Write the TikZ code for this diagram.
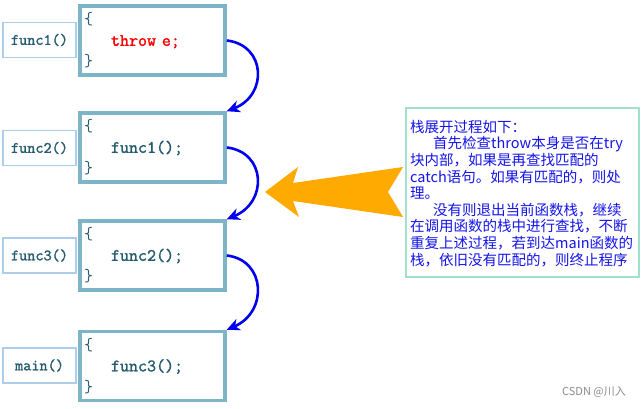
\documentclass[tikz,border=0pt]{standalone}
\usepackage{fontspec}
\usepackage{xcolor}
\usepackage{tikz}
\usetikzlibrary{arrows.meta}
\newfontfamily\cjk{Noto Sans CJK SC}
\newfontfamily\codefont{Latin Modern Mono}[FakeBold=1.6]
\newfontfamily\bracefont{Latin Modern Mono}
\definecolor{frameblue}{RGB}{126,180,200}
\definecolor{labelframe}{RGB}{172,206,234}
\definecolor{codeink}{RGB}{38,92,112}
\definecolor{throwred}{RGB}{255,0,0}
\definecolor{callblue}{RGB}{0,0,240}
\definecolor{unwindorange}{RGB}{255,170,0}
\definecolor{noteframe}{RGB}{160,224,204}
\definecolor{noteink}{RGB}{20,20,235}
\newcommand{\brc}[1]{{\bracefont #1}}
\tikzset{
  codebox/.style ={draw=frameblue, line width=3.5pt, fill=white, align=left,
                   text width=137pt, inner sep=4pt, minimum height=69pt,
                   text=codeink, font=\fontsize{17.5}{21}\selectfont\codefont},
  labelbox/.style={draw=labelframe, line width=1.2pt, fill=white, align=center,
                   minimum width=73pt, minimum height=35pt, inner sep=2pt,
                   text=codeink, font=\fontsize{15.8}{18}\selectfont\codefont},
  callarrow/.style={-{Stealth[length=13pt,width=12pt,inset=4pt]}, draw=callblue, line width=2.6pt},
  notebox/.style ={draw=noteframe, line width=1.4pt, fill=white},
}

\begin{document}
\begin{tikzpicture}[x=1pt,y=-1pt]
\useasboundingbox[fill=white] (0,0) rectangle (643,409);

% call stack labels
\node[labelbox] (lab1) at (39.5,40)    {func1()};
\node[labelbox] (lab2) at (39.5,148)   {func2()};
\node[labelbox] (lab3) at (39.5,255.5) {func3()};
\node[labelbox] (lab4) at (39.5,365.5) {main()};

% function bodies
\node[codebox] (body1) at (152.5,40.5)
   {\brc{\{}\\\hspace*{27pt}\textcolor{throwred}{throw e;}\\\brc{\}}};
\node[codebox] (body2) at (152.5,147.5)
   {\brc{\{}\\\hspace*{27pt}func1();\\\brc{\}}};
\node[codebox] (body3) at (152.5,255.5)
   {\brc{\{}\\\hspace*{27pt}func2();\\\brc{\}}};
\node[codebox] (body4) at (152.5,366)
   {\brc{\{}\\\hspace*{27pt}func3();\\\brc{\}}};

% unwinding hops
\draw[callarrow] (body1.east) .. controls (266,45) and (268,95) .. (body2.north east);
\draw[callarrow] (body2.east) .. controls (266,152) and (268,202) .. (body3.north east);
\draw[callarrow] (body3.east) .. controls (266,260) and (268,312) .. (body4.north east);

% big arrow back to the stack
\fill[unwindorange] (265,192) -- (298,167) -- (293,183) -- (403,167) -- (388,192)
   -- (403,217) -- (293,201) -- (299,217) -- cycle;

% explanation
\node[notebox, minimum width=233pt, minimum height=169pt] (note) at (522.5,192.5) {};
\node[anchor=north west, inner sep=0pt, align=left, text=noteink,
      font=\cjk\fontsize{14.5}{16.6}\selectfont] (notetext) at (410,120)
  {栈展开过程如下：\\
   \hspace*{23pt}首先检查throw本身是否在try\\
   块内部，如果是再查找匹配的\\
   catch语句。如果有匹配的，则处\\
   理。\\
   \hspace*{23pt}没有则退出当前函数栈，继续\\
   在调用函数的栈中进行查找，不断\\
   重复上述过程，若到达main函数的\\
   栈，依旧没有匹配的，则终止程序};

\node[text=black!45, font=\cjk\fontsize{11}{13}\selectfont] (mark) at (594,392) {CSDN @川入};
\end{tikzpicture}
\end{document}
